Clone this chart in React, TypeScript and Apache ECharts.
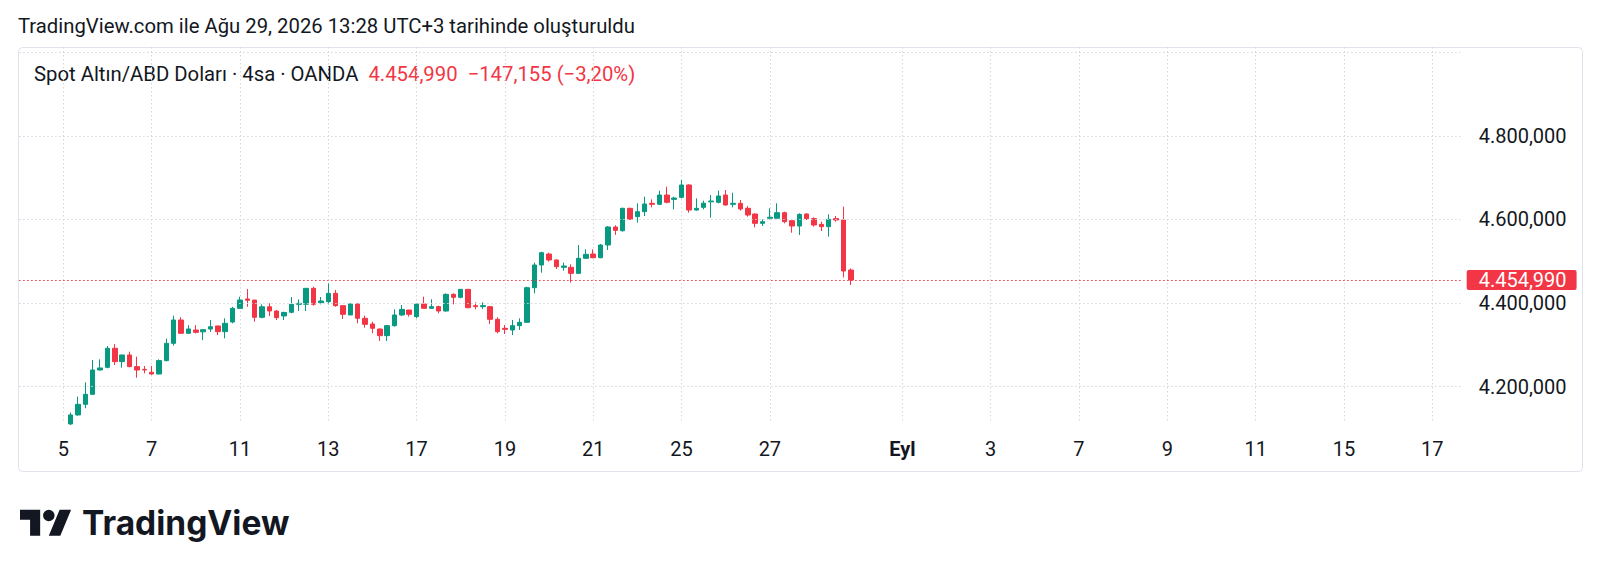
import React, { useEffect, useRef } from "react";
import * as echarts from "echarts";

// ---------- texts ----------
const titleText = "TradingView.com ile Ağu 29, 2026 13:28 UTC+3 tarihinde oluşturuldu";
const symbolText = "Spot Altın/ABD Doları · 4sa · OANDA";
const lastPriceText = "4.454,990";
const changeText = "−147,155 (−3,20%)";
const brandText = "TradingView";
const lastPrice = 4454.99;

// ---------- x slots (one slot = one 4h bar, 6 per trading day) ----------
const firstSlot = -6;
const lastSlot = 190;
const firstCandleSlot = 1;

// [open, close, low, high]
const candles: [number, number, number, number][] = [
  [4110.3, 4131.9, 4108.0, 4137.5],
  [4131.9, 4157.3, 4130.0, 4175.7],
  [4157.3, 4181.3, 4148.0, 4210.0],
  [4181.3, 4239.6, 4181.0, 4263.5],
  [4239.6, 4244.4, 4238.0, 4265.0],
  [4246.0, 4291.5, 4243.6, 4297.0],
  [4291.5, 4259.5, 4251.6, 4301.8],
  [4259.5, 4275.5, 4245.0, 4276.0],
  [4275.5, 4247.6, 4246.0, 4283.5],
  [4247.6, 4239.6, 4221.0, 4271.5],
  [4241.0, 4239.6, 4231.6, 4249.0],
  [4234.0, 4230.0, 4228.0, 4249.0],
  [4230.0, 4262.0, 4229.0, 4265.0],
  [4262.0, 4303.4, 4260.0, 4314.6],
  [4303.4, 4359.3, 4298.0, 4369.7],
  [4359.3, 4327.4, 4326.0, 4365.7],
  [4327.4, 4337.8, 4327.0, 4347.0],
  [4335.3, 4329.8, 4327.0, 4347.0],
  [4331.0, 4336.0, 4311.0, 4337.0],
  [4337.7, 4343.3, 4331.0, 4359.0],
  [4345.0, 4331.4, 4323.0, 4345.0],
  [4331.4, 4351.3, 4315.4, 4363.3],
  [4354.5, 4387.2, 4351.3, 4391.0],
  [4387.2, 4407.0, 4387.0, 4415.0],
  [4409.6, 4406.6, 4391.0, 4433.5],
  [4407.0, 4365.7, 4355.3, 4407.0],
  [4365.7, 4391.0, 4363.3, 4396.8],
  [4391.0, 4380.8, 4368.9, 4399.2],
  [4380.8, 4364.9, 4359.3, 4383.2],
  [4368.9, 4377.3, 4359.3, 4379.3],
  [4377.7, 4396.8, 4375.3, 4414.4],
  [4396.8, 4399.2, 4380.8, 4408.8],
  [4397.0, 4435.1, 4380.8, 4435.1],
  [4435.1, 4396.8, 4393.6, 4439.1],
  [4400.8, 4404.8, 4396.8, 4414.4],
  [4403.2, 4423.2, 4396.8, 4447.1],
  [4423.2, 4393.6, 4391.0, 4431.1],
  [4393.6, 4372.9, 4361.7, 4393.6],
  [4371.3, 4397.6, 4371.3, 4399.2],
  [4397.6, 4363.3, 4351.3, 4399.2],
  [4363.3, 4348.9, 4340.9, 4369.7],
  [4349.7, 4339.3, 4327.4, 4355.3],
  [4337.7, 4321.8, 4309.0, 4339.3],
  [4321.8, 4345.7, 4309.0, 4347.3],
  [4345.7, 4371.3, 4343.3, 4384.8],
  [4371.3, 4384.8, 4368.9, 4395.2],
  [4383.2, 4372.9, 4367.3, 4383.2],
  [4367.3, 4397.6, 4363.3, 4399.2],
  [4397.6, 4387.2, 4387.2, 4415.2],
  [4387.2, 4391.2, 4385.6, 4408.8],
  [4391.2, 4380.8, 4375.3, 4393.6],
  [4380.8, 4420.7, 4379.2, 4423.1],
  [4420.7, 4413.6, 4396.8, 4423.1],
  [4413.6, 4432.7, 4411.2, 4433.5],
  [4432.7, 4388.8, 4387.2, 4432.7],
  [4393.6, 4391.2, 4384.8, 4401.6],
  [4391.2, 4393.6, 4385.6, 4401.6],
  [4391.2, 4360.9, 4349.7, 4392.8],
  [4360.9, 4331.3, 4327.3, 4365.7],
  [4339.3, 4336.9, 4325.7, 4347.3],
  [4335.3, 4345.7, 4323.3, 4359.3],
  [4345.7, 4353.7, 4335.3, 4363.3],
  [4353.7, 4436.7, 4352.9, 4439.1],
  [4436.7, 4491.0, 4423.1, 4496.6],
  [4491.0, 4520.5, 4472.6, 4522.9],
  [4517.3, 4503.0, 4499.0, 4520.5],
  [4503.0, 4487.0, 4481.4, 4504.5],
  [4485.4, 4488.6, 4477.4, 4496.6],
  [4485.4, 4471.0, 4448.7, 4492.6],
  [4471.0, 4507.0, 4469.4, 4538.9],
  [4507.0, 4516.5, 4507.0, 4528.5],
  [4517.3, 4508.5, 4507.0, 4528.5],
  [4508.5, 4538.9, 4507.0, 4541.3],
  [4538.9, 4582.0, 4527.0, 4584.0],
  [4582.0, 4574.0, 4563.0, 4586.0],
  [4573.2, 4626.7, 4570.8, 4628.3],
  [4626.7, 4600.4, 4598.8, 4628.3],
  [4606.8, 4618.7, 4592.4, 4638.7],
  [4618.7, 4637.1, 4608.3, 4654.6],
  [4638.7, 4636.3, 4629.1, 4648.2],
  [4636.3, 4658.6, 4634.7, 4669.0],
  [4658.6, 4641.1, 4638.7, 4678.6],
  [4648.2, 4651.4, 4624.3, 4654.6],
  [4653.0, 4682.6, 4650.6, 4694.6],
  [4682.6, 4622.7, 4616.3, 4684.2],
  [4622.7, 4626.7, 4621.1, 4650.6],
  [4629.1, 4639.1, 4624.3, 4645.0],
  [4642.3, 4644.3, 4604.3, 4658.6],
  [4641.1, 4656.2, 4638.7, 4669.0],
  [4658.6, 4634.7, 4633.1, 4670.6],
  [4636.3, 4638.7, 4629.1, 4664.2],
  [4638.7, 4625.1, 4621.1, 4646.7],
  [4626.7, 4610.7, 4606.8, 4632.3],
  [4613.1, 4590.8, 4581.2, 4614.7],
  [4590.8, 4594.8, 4584.4, 4600.4],
  [4603.0, 4605.4, 4600.4, 4626.7],
  [4603.0, 4616.3, 4603.0, 4638.7],
  [4616.3, 4594.8, 4590.8, 4618.7],
  [4597.2, 4584.4, 4568.4, 4597.2],
  [4584.4, 4612.3, 4562.8, 4614.7],
  [4613.1, 4602.1, 4598.8, 4614.7],
  [4602.1, 4586.8, 4582.8, 4605.1],
  [4588.4, 4582.8, 4572.4, 4594.8],
  [4582.8, 4600.4, 4558.8, 4612.3],
  [4602.0, 4598.8, 4594.8, 4608.3],
  [4598.8, 4476.6, 4461.4, 4630.7],
  [4479.0, 4454.99, 4443.1, 4483.0],
];

// day ticks on the time axis (slot of the first bar of the day)
const dayTickSlots = [0, 12, 24, 36, 48, 60, 72, 84, 96, 114, 126, 138, 150, 162, 174, 186];
const dayTickLabels = ["5", "7", "11", "13", "17", "19", "21", "25", "27", "Eyl", "3", "7", "9", "11", "15", "17"];
const monthLabels = ["Eyl"];

// price axis
const priceGridValues = [4200, 4400, 4600, 4800, 5000];
const priceLabelValues = [4200, 4400, 4600, 4800];
const priceMin = 4112.6;
const priceMax = 5013.1;

// ---------- helpers ----------
const fmtPrice = (v: number) => {
  const [i, d] = v.toFixed(3).split(".");
  return i.replace(/\B(?=(\d{3})+(?!\d))/g, ".") + "," + d;
};

const logoPath =
  "M14 22H7V11H0V4h14v18zM28 22h-8l7.5-18h8L28 22zM24 8a4 4 0 1 1-8 0a4 4 0 1 1 8 0z";
echarts.graphic.registerShape("tvLogo", echarts.graphic.extendPath(logoPath, {}));

const UP = "#089981";
const DOWN = "#F23645";
const TEXT = "#131722";
const GRID = "#d3d6dd";
const FONT = "Roboto";
const HEAD_SIZE = 20.3;

function buildOption() {
  const slots: string[] = [];
  for (let s = firstSlot; s <= lastSlot; s++) slots.push(String(s));
  const data = slots.map((s) => {
    const k = Number(s) - firstCandleSlot;
    return k >= 0 && k < candles.length ? candles[k] : "-";
  });
  const tickIdx = new Map<number, string>();
  dayTickSlots.forEach((s, i) => tickIdx.set(s - firstSlot, dayTickLabels[i]));
  const isTick = (i: number) => tickIdx.has(i);

  const gridLines = priceGridValues.map((v) => ({
    yAxis: v,
    lineStyle: { color: GRID, width: 1, type: [1.5, 2.5] as any },
    label: {
      show: priceLabelValues.includes(v),
      position: "end",
      distance: 17,
      formatter: () => fmtPrice(v),
      color: TEXT,
      fontSize: 20,
      fontFamily: FONT,
    },
  }));

  return {
    animation: false,
    backgroundColor: "#ffffff",
    textStyle: { fontFamily: FONT },
    grid: { left: 19.14, right: 138.3, top: 47, bottom: 150, containLabel: false },
    xAxis: {
      type: "category",
      data: slots,
      boundaryGap: false,
      axisLine: { show: false },
      axisTick: { show: false },
      axisLabel: {
        interval: (i: number) => isTick(i),
        formatter: (_v: string, i: number) => {
          const t = tickIdx.get(i) || "";
          return monthLabels.includes(t) ? `{b|${t}}` : t;
        },
        color: TEXT,
        fontSize: 20,
        lineHeight: 20,
        margin: 16,
        fontFamily: FONT,
        rich: { b: { fontWeight: "bold", fontSize: 20, color: TEXT, fontFamily: FONT, lineHeight: 20 } },
      },
      splitLine: {
        show: true,
        interval: (i: number) => isTick(i),
        lineStyle: { color: GRID, width: 1, type: [1.5, 2.5] },
      },
    },
    yAxis: {
      type: "value",
      min: priceMin,
      max: priceMax,
      axisLine: { show: false },
      axisTick: { show: false },
      axisLabel: { show: false },
      splitLine: { show: false },
    },
    series: [
      {
        type: "candlestick",
        data,
        barWidth: 5,
        itemStyle: {
          color: UP,
          color0: DOWN,
          borderColor: UP,
          borderColor0: DOWN,
          borderWidth: 1,
        },
        markLine: {
          silent: true,
          symbol: "none",
          animation: false,
          data: [
            ...gridLines,
            {
              yAxis: lastPrice,
              lineStyle: { color: "#F23645", width: 1, type: [1.5, 2.5] },
              label: {
                show: true,
                position: "end",
                distance: 5,
                formatter: () => lastPriceText,
                color: "#ffffff",
                backgroundColor: "#F23645",
                padding: [2, 10, 2, 12],
                borderRadius: 2,
                fontSize: 20,
                lineHeight: 16,
                fontFamily: FONT,
              },
            },
          ],
        },
      },
    ],
    graphic: [
      {
        type: "rect",
        silent: true,
        z: -1,
        shape: { x: 18.5, y: 47.5, width: 1564, height: 424, r: 4 },
        style: { fill: "none", stroke: "#e0e3eb", lineWidth: 1 },
      },
      {
        type: "text",
        x: 18,
        y: 26,
        style: { text: titleText, fontSize: HEAD_SIZE, fontFamily: FONT, fill: TEXT, verticalAlign: "middle" },
      },
      {
        type: "text",
        x: 34,
        y: 74,
        style: {
          text: `{a|${symbolText}}  {r|${lastPriceText}}  {r|${changeText}}`,
          verticalAlign: "middle",
          fontSize: HEAD_SIZE,
          fontFamily: FONT,
          rich: {
            a: { fontSize: HEAD_SIZE, fontFamily: FONT, fill: TEXT, color: TEXT },
            r: { fontSize: HEAD_SIZE, fontFamily: FONT, fill: "#F23645", color: "#F23645" },
          },
        },
      },
      {
        type: "tvLogo",
        x: 20,
        y: 504,
        scaleX: 1.44,
        scaleY: 1.44,
        style: { fill: TEXT },
      },
      {
        type: "text",
        x: 82,
        y: 523,
        style: {
          text: brandText,
          fontSize: 33.5,
          fontWeight: "bold",
          fontFamily: "Inter",
          fill: TEXT,
          verticalAlign: "middle",
        },
      },
    ],
  };
}

export default function App() {
  const ref = useRef<HTMLDivElement>(null);
  useEffect(() => {
    if (!ref.current) return;
    const chart = echarts.init(ref.current, undefined, { renderer: "svg" });
    chart.setOption(buildOption() as any);
    return () => chart.dispose();
  }, []);
  return (
    <div
      ref={ref}
      style={{ position: "absolute", left: 0, top: 0, width: 1600, height: 573, background: "#ffffff" }}
    />
  );
}
